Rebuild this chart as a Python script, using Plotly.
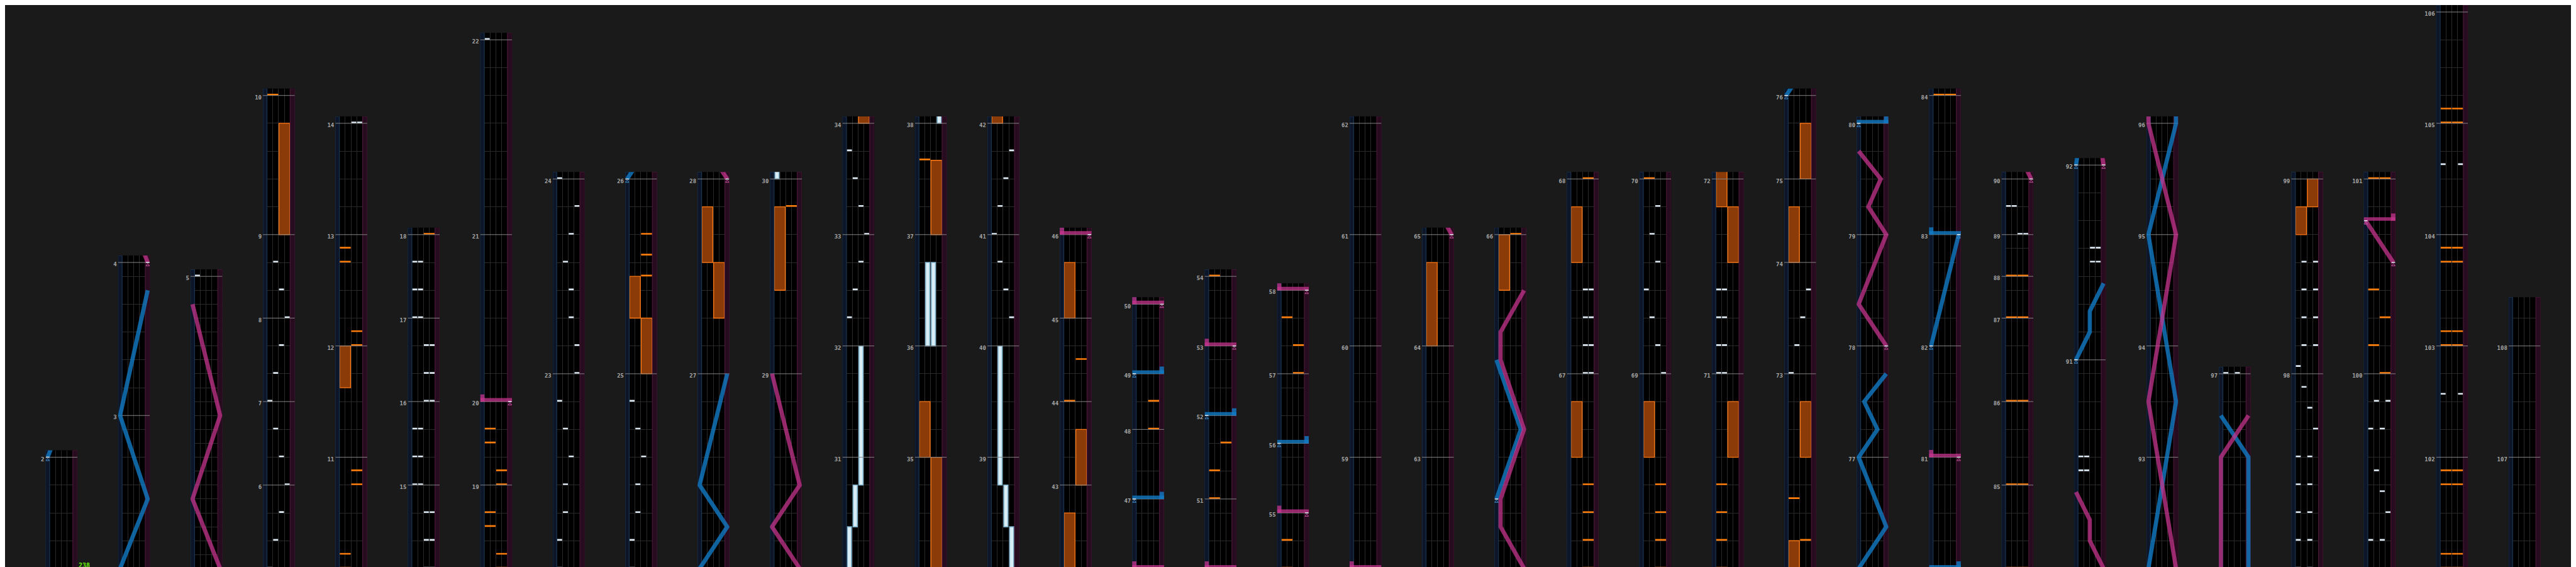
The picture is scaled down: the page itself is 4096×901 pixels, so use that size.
import plotly.graph_objects as go

# ---------------- DATA ----------------
# length of every measure in beats (m1 .. m108)
measure_beats = [4, 5.5, 5.5, 10.5, 3, 3, 3, 3, 5, 4, 4, 4, 4, 3, 3, 3, 3,   # m1-m17
                 3, 3, 6, 7, 7, 7, 7, 7, 7, 7, 7, 7,                          # m18-m29
                 4, 4, 4, 4, 4, 4, 4, 4, 4, 4, 4, 4,                          # m30-m41
                 3, 3, 3, 3,                                                  # m42-m45
                 2.5, 2.5, 2, 2.5, 2.5, 3, 2.5, 2.5, 2, 2.5, 2.5, 3,          # m46-m57
                 4, 4, 4, 4, 4, 4, 4,                                         # m58-m64
                 12,                                                          # m65
                 7, 7, 7, 7, 7, 7, 7,                                         # m66-m72
                 4, 3, 3,                                                     # m73-m75
                 4, 4, 4, 4, 4, 4, 4, 5,                                      # m76-m83
                 3, 3, 3, 1.5, 1.5, 2,                                        # m84-m89
                 7.5, 7,                                                      # m90-m91
                 4, 4, 4, 4,                                                  # m92-m95
                 7, 7, 7, 7, 7,                                               # m96-m100
                 4, 4, 4, 4, 4, 4, 4,                                         # m101-m107
                 4]                                                           # m108
grid_step = {4: 0.5}          # beat-grid spacing (default 1 beat)
end_extra = 1.75              # beats of m108 shown at the chart end

column_first = [1, 2, 4, 5, 10, 14, 18, 22, 24, 26, 28, 30, 34, 38, 42, 46, 50, 54,
                58, 62, 65, 66, 68, 70, 72, 76, 80, 84, 90, 92, 96, 97, 99, 101, 106]
column_top = [2, 4, 5, 10, 14, 18, 22, 24, 26, 28, 30, 34, 38, 42, 46, 50, 54, 58,
              62, 65, 66, 68, 70, 72, 76, 80, 84, 90, 92, 96, 97, 99, 101, 106, 108]

bpm_text = "238"

# BT chips: (measure, beat, lane)
bt_chips = [
    (5, 0, 0), (5, 1, 1), (5, 2, 2), (6, 0, 3), (6, 1, 2), (6, 2, 1),
    (7, 0, 0), (7, 1, 1), (7, 2, 2), (8, 0, 3), (8, 1, 2), (8, 2, 1),
    (14, 0, 2), (14, 0, 3), (14, 1, 2), (14, 1, 3), (14, 2, 2), (14, 2, 3),
    (15, 0, 0), (15, 0, 1), (15, 1, 0), (15, 1, 1), (15, 2, 0), (15, 2, 1),
    (16, 0, 2), (16, 0, 3), (16, 1, 2), (16, 1, 3), (16, 2, 2), (16, 2, 3),
    (17, 0, 0), (17, 0, 1), (17, 1, 0), (17, 1, 1), (17, 2, 0), (17, 2, 1),
    (22, 0, 0), (22, 1, 0), (22, 2, 1), (22, 3, 1), (22, 4, 2), (22, 5, 1), (22, 6, 0),
    (23, 0, 3), (23, 1, 3), (23, 2, 2), (23, 3, 2), (23, 4, 1), (23, 5, 2), (23, 6, 3),
    (24, 0, 0), (24, 1, 0), (24, 2, 1), (24, 3, 1), (24, 4, 2), (24, 5, 1), (24, 6, 0),
    (32, 1, 0), (32, 2, 1), (32, 3, 2), (33, 0, 3), (33, 1, 2), (33, 2, 1), (33, 3, 0),
    (40, 1, 3), (40, 2, 2), (40, 3, 1), (41, 0, 0), (41, 1, 1), (41, 2, 2), (41, 3, 3),
    (67, 0, 2), (67, 0, 3), (67, 1, 2), (67, 1, 3), (67, 2, 2), (67, 2, 3), (67, 3, 2), (67, 3, 3),
    (69, 0, 3), (69, 1, 2), (69, 2, 1), (69, 3, 0), (69, 4, 2), (69, 5, 1), (69, 6, 2),
    (71, 0, 0), (71, 0, 1), (71, 1, 0), (71, 1, 1), (71, 2, 0), (71, 2, 1), (71, 3, 0), (71, 3, 1),
    (73, 0, 0), (73, 1, 1), (73, 2, 2), (73, 3, 3),
    (89, 0, 2), (89, 0, 3), (89, 1, 0), (89, 1, 1),
    (90, 3.5, 0), (90, 3.5, 1), (90, 4, 0), (90, 4, 1),
    (91, 3.5, 2), (91, 3.5, 3), (91, 4, 2), (91, 4, 3),
    (97, 0, 0), (97, 0, 2), (97, 1, 0), (97, 1, 2), (97, 2, 0), (97, 2, 2),
    (97, 3, 0), (97, 3, 2), (97, 4, 0), (97, 4, 2),
    (97, 5, 3), (97, 5.75, 2), (97, 6.5, 1), (98, 0.25, 0),
    (98, 1, 1), (98, 1, 3), (98, 2, 1), (98, 2, 3), (98, 3, 1), (98, 3, 3), (98, 4, 1), (98, 4, 3),
    (99, 1, 0), (99, 1, 2), (99, 2, 3), (99, 2.75, 2), (99, 3.5, 1),
    (99, 5, 0), (99, 5, 2), (99, 6, 1), (99, 6, 3),
    (102, 2.25, 0), (102, 2.25, 3), (104, 2.5, 0), (104, 2.5, 3),
]

# FX chips: (measure, beat, side)
fx_chips = [
    (10, 0, 'L'), (10, 0.5, 'L'), (10, 3, 'R'), (10, 3.5, 'R'),
    (12, 0, 'R'), (12, 0.5, 'R'), (12, 3, 'L'), (12, 3.5, 'L'),
    (18, 0, 'R'), (18, 0.5, 'R'), (18, 1.5, 'L'), (18, 2, 'L'),
    (19, 0, 'R'), (19, 0.5, 'R'), (19, 1.5, 'L'), (19, 2, 'L'),
    (25, 3.5, 'R'), (25, 4.25, 'R'), (25, 5, 'R'),
    (29, 6, 'R'), (37, 2.67, 'L'),
    (44, 0, 'L'), (44, 1.5, 'R'),
    (48, 0, 'R'), (48, 1, 'R'),
    (51, 0, 'L'), (51, 1, 'L'), (51, 2, 'R'),
    (54, 0, 'L'), (54, 1, 'L'),
    (57, 0, 'R'), (57, 1, 'R'), (57, 2, 'L'),
    (66, 0, 'R'), (66, 1, 'R'), (66, 2, 'R'), (66, 3, 'R'),
    (68, 0, 'R'), (68, 1, 'R'), (68, 2, 'R'), (68, 3, 'R'),
    (70, 0, 'L'), (70, 1, 'L'), (70, 2, 'L'), (70, 3, 'L'),
    (72, 1, 'R'), (72, 2.5, 'L'),
    (84, 0, 'L'), (84, 0, 'R'), (85, 0, 'L'), (85, 0, 'R'), (86, 0, 'L'), (86, 0, 'R'),
    (87, 0, 'L'), (87, 0, 'R'), (88, 0, 'L'), (88, 0, 'R'),
    (100, 0, 'R'), (100, 1, 'L'), (100, 2, 'R'), (100, 3, 'L'),
    (101, 0, 'L'), (101, 0, 'R'), (101, 0.5, 'L'), (101, 0.5, 'R'),
    (101, 3, 'L'), (101, 3, 'R'), (101, 3.5, 'L'), (101, 3.5, 'R'),
    (103, 0, 'L'), (103, 0, 'R'), (103, 0.5, 'L'), (103, 0.5, 'R'),
    (103, 3, 'L'), (103, 3, 'R'), (103, 3.5, 'L'), (103, 3.5, 'R'),
    (105, 0, 'L'), (105, 0, 'R'), (105, 0.5, 'L'), (105, 0.5, 'R'),
]

# FX holds: (measure, beat, length, side)
fx_holds = [
    (9, 0, 4, 'R'), (11, 2.5, 1.5, 'L'),
    (25, 0, 2, 'R'), (25, 2, 1.5, 'L'),
    (27, 2, 2, 'R'), (27, 4, 2, 'L'), (29, 3, 3, 'L'),
    (34, 0, 4, 'R'), (35, 0, 2, 'L'), (37, 0, 2.67, 'R'),
    (42, 0, 2, 'L'), (43, 0, 2, 'R'), (45, 0, 2, 'L'),
    (64, 0, 3, 'L'), (65, 10, 2, 'L'),
    (66, 4, 2, 'L'), (67, 4, 2, 'L'), (68, 4, 2, 'L'),
    (70, 4, 2, 'R'), (71, 4, 2, 'R'), (71, 6, 2, 'L'),
    (72, 4, 2, 'R'), (74, 0, 2, 'L'), (75, 0, 2, 'R'),
    (98, 5, 1, 'L'), (98, 6, 1, 'R'),
]

# BT holds: (measure, beat, length, lane)
bt_holds = [
    (30, 0, 1.5, 0), (30, 1.5, 1.5, 1), (30, 3, 5, 2),
    (36, 0, 3, 1), (36, 0, 3, 2),
    (38, 0, 1.5, 3), (38, 1.5, 1.5, 2), (38, 3, 5, 1),
]

# lasers: list of (measure, beat, position 0..1)
lasers_left = [
    [(2, 0, 0), (2, 2.5, 1), (3, 0, 0), (3, 4.5, 1)],
    [(26, 0, 0), (26, 1.5, 1), (26, 3, 0), (27, 0, 1)],
    [(65, 2.5, 0), (65, 5, 0.88), (65, 7.5, 0)],
    [(76, 0, 0), (76, 1.5, 1), (77, 0, 0), (77, 1, 0.68), (77, 2, 0.2), (77, 3, 1)],
    [(82, 0, 0), (83, 0, 1)],
    [(91, 0, 0), (91, 1, 0.5), (91, 1.75, 0.5), (91, 2.75, 1)],
    [(92, 0, 0), (93, 2, 1), (95, 0, 0), (96, 0, 1), (96, 4, 1), (96, 5.5, 0)],
]
lasers_right = [
    [(4, 0, 1), (4, 2.5, 0), (4, 5.5, 1), (4, 9.5, 0)],
    [(28, 0, 1), (28, 1.5, 0), (28, 3, 1), (29, 0, 0)],
    [(65, 0, 1), (65, 1.5, 0.15), (65, 2.5, 0.15), (65, 5, 1), (65, 7.5, 0.15), (65, 8.5, 0.15), (65, 10, 1)],
    [(78, 0, 1), (78, 1.5, 0), (79, 0, 1), (79, 1, 0.35), (79, 2, 0.8), (79, 3, 0)],
    [(90, 0, 1), (90, 1, 0.5), (90, 1.75, 0.5), (90, 2.75, 0)],
    [(92, 0, 1), (93, 2, 0), (95, 0, 1), (96, 0, 0), (96, 4, 0), (96, 5.5, 1)],
    [(100, 4, 1), (100, 5.5, 0)],
]
# slams: (measure, beat, laser side, end with the block: 0 left / 1 right)
slams = [
    (20, 0, 'R', 0), (46, 0, 'R', 0), (47, 0, 'L', 1), (49, 0, 'L', 1),
    (50, 0, 'R', 0), (52, 0, 'L', 1), (53, 0, 'R', 0), (55, 0, 'R', 0),
    (56, 0, 'L', 1), (58, 0, 'R', 0), (80, 0, 'L', 1), (81, 0, 'R', 0),
    (83, 0, 'L', 0), (100, 5.5, 'R', 1),
]

# ---------------- GEOMETRY / STYLE ----------------
FULL_W, FULL_H = 4445, 978
OUT_W, OUT_H = 4096, 901
SC = OUT_H / FULL_H
PX = 48.0            # reference px per beat
BOT_PAD, TOP_PAD = 6, 12
COL_X0, COL_STEP, COL_W = 70, 125, 55
XMIN, XMAX = -0.7, 4.8

BG = '#1a1a1a'
BLUE_BAND, BLUE_EDGE = '#0d1629', '#1c3550'
PINK_BAND, PINK_EDGE = '#260c1e', '#4a1838'
GRID = '#2a2a2a'
MEASURE = '#858585'
LABEL = '#a6a6a6'
BT_COL = '#dde9f3'
FX_COL = '#ff7d0a'
FXH_FILL, FXH_EDGE = '#8a3b08', '#ff7a14'
BTH_FILL, BTH_EDGE = '#d9edf6', '#7fb3cd'
BLUE_LASER = 'rgba(18,122,196,0.80)'
PINK_LASER = 'rgba(198,52,142,0.74)'
BLUE_CARET, PINK_CARET = '#3f8fcc', '#c8509f'
CHIP_H = 0.06

start = {}
acc = 0.0
for i, L in enumerate(measure_beats):
    start[i + 1] = acc
    acc += L


def T(m, b):
    return start[m] + b


def lx(p):
    return -0.35 + p * 4.77


# laser start points (caret markers): first point of each laser + free end of slams
caret_pts = {'L': [], 'R': []}
for las in lasers_left:
    m, bb, p = las[0]
    caret_pts['L'].append((T(m, bb), lx(p)))
for las in lasers_right:
    m, bb, p = las[0]
    caret_pts['R'].append((T(m, bb), lx(p)))
for m, bb, s, blk in slams:
    caret_pts[s].append((T(m, bb), lx(1 - blk)))

fig = go.Figure()
n_cols = len(column_first)
for k in range(n_cols):
    a, b = column_first[k], column_top[k]
    idx = k + 1
    xa = 'x' if idx == 1 else f'x{idx}'
    ya = 'y' if idx == 1 else f'y{idx}'
    lo = start[a]
    if k == n_cols - 1:
        hi, tpad = start[b] + end_extra, 0
    else:
        hi, tpad = start[b], TOP_PAD
    ylo = lo - BOT_PAD / PX
    yhi = hi + tpad / PX
    dom_top = (BOT_PAD + PX * (hi - lo) + tpad) / FULL_H
    x0 = (COL_X0 + COL_STEP * k) / FULL_W
    x1 = (COL_X0 + COL_STEP * k + COL_W) / FULL_W

    meas = [m for m in start if lo - 1e-9 <= start[m] <= hi + 1e-9]
    minor = []
    for m in meas:
        st = grid_step.get(m, 1)
        j = 1
        while j * st < measure_beats[m - 1] - 1e-9 and start[m] + j * st <= yhi:
            minor.append(start[m] + j * st)
            j += 1

    fig.layout[('xaxis' if idx == 1 else f'xaxis{idx}')] = dict(
        domain=[x0, x1], range=[XMIN, XMAX], anchor=ya,
        tickmode='array', tickvals=[1, 2, 3], showticklabels=False, ticks='',
        showgrid=True, gridcolor=GRID, gridwidth=1, zeroline=False, showline=False,
        fixedrange=True)
    fig.layout[('yaxis' if idx == 1 else f'yaxis{idx}')] = dict(
        domain=[0, dom_top], range=[ylo, yhi], anchor=xa,
        tickmode='array', tickvals=[start[m] for m in meas], ticktext=[str(m) for m in meas],
        ticks='', showgrid=False, zeroline=False, showline=False,
        tickfont=dict(family='DejaVu Sans Mono', size=9, color=LABEL, weight='bold'),
        ticklabelstandoff=1, ticklabelshift=3,
        minor=dict(tickmode='array', tickvals=minor, showgrid=True, gridcolor=GRID,
                   gridwidth=1, ticks=''),
        fixedrange=True)

    common = dict(xaxis=xa, yaxis=ya, hoverinfo='skip', showlegend=False)

    # lane-side bands
    for bx0, bx1, fc, lc in [(XMIN, 0, BLUE_BAND, BLUE_EDGE), (4, XMAX, PINK_BAND, PINK_EDGE)]:
        fig.add_trace(go.Scatter(x=[bx0, bx1, bx1, bx0, bx0], y=[ylo, ylo, yhi, yhi, ylo],
                                 mode='lines', fill='toself', fillcolor=fc,
                                 line=dict(color=lc, width=1.2), **common))

    def vis(t0, t1):
        return t1 >= ylo - 0.01 and t0 <= yhi + 0.01

    # FX holds
    hx, hb, hy = [], [], []
    for m, bb, ln, s in fx_holds:
        t = T(m, bb)
        if vis(t, t + ln):
            hx.append(1.0 if s == 'L' else 3.0); hb.append(t); hy.append(ln)
    if hx:
        fig.add_trace(go.Bar(x=hx, y=hy, base=hb, width=1.86,
                             marker=dict(color=FXH_FILL, line=dict(color=FXH_EDGE, width=1.3)),
                             **common))
    # BT holds
    hx, hb, hy = [], [], []
    for m, bb, ln, lane in bt_holds:
        t = T(m, bb)
        if vis(t, t + ln):
            hx.append(lane + 0.5); hb.append(t); hy.append(ln)
    if hx:
        fig.add_trace(go.Bar(x=hx, y=hy, base=hb, width=0.72,
                             marker=dict(color=BTH_FILL, line=dict(color=BTH_EDGE, width=1.6)),
                             **common))

    # measure lines
    mx, my = [], []
    for m in meas:
        mx += [XMIN, XMAX, None]; my += [start[m], start[m], None]
    fig.add_trace(go.Scatter(x=mx, y=my, mode='lines', line=dict(color=MEASURE, width=1),
                             **common))

    # FX chips
    cx, cb = [], []
    for m, bb, s in fx_chips:
        t = T(m, bb)
        if vis(t, t + CHIP_H):
            cx.append(1.0 if s == 'L' else 3.0); cb.append(t)
    if cx:
        fig.add_trace(go.Bar(x=cx, y=[CHIP_H] * len(cx), base=cb, width=1.9,
                             marker=dict(color=FX_COL, line=dict(width=0)), **common))
    # BT chips
    cx, cb = [], []
    for m, bb, lane in bt_chips:
        t = T(m, bb)
        if vis(t, t + CHIP_H):
            cx.append(lane + 0.5); cb.append(t)
    if cx:
        fig.add_trace(go.Bar(x=cx, y=[CHIP_H] * len(cx), base=cb, width=0.86,
                             marker=dict(color=BT_COL, line=dict(width=0)), **common))

    # lasers
    for lasers, col in [(lasers_left, BLUE_LASER), (lasers_right, PINK_LASER)]:
        xs, ys = [], []
        for las in lasers:
            ts = [T(m, bb) for m, bb, p in las]
            if not vis(min(ts), max(ts)):
                continue
            for (m, bb, p) in las:
                xs.append(lx(p)); ys.append(T(m, bb))
            xs.append(None); ys.append(None)
        if xs:
            fig.add_trace(go.Scatter(x=xs, y=ys, mode='lines',
                                     line=dict(color=col, width=7.2 * SC),
                                     **common))
    # slams
    for side, col in [('L', BLUE_LASER), ('R', PINK_LASER)]:
        bx, by, qx, qy = [], [], [], []
        for m, bb, s, blk in slams:
            if s != side:
                continue
            t = T(m, bb)
            if not vis(t, t + 0.25):
                continue
            bx += [XMIN, XMAX, None]; by += [t + 0.0625, t + 0.0625, None]
            qxx = -0.35 if blk == 0 else 4.4
            qx += [qxx, qxx, None]; qy += [t, t + 0.26, None]
        if bx:
            fig.add_trace(go.Scatter(x=bx, y=by, mode='lines',
                                     line=dict(color=col, width=6 * SC), **common))
            fig.add_trace(go.Scatter(x=qx, y=qy, mode='lines',
                                     line=dict(color=col, width=7.6 * SC), **common))

    # laser start marks: short white tick on the line + caret just below
    for side, ccol in [('L', BLUE_CARET), ('R', PINK_CARET)]:
        pts = [(t, x) for t, x in caret_pts[side] if ylo <= t <= yhi]
        if not pts:
            continue
        wx, wy = [], []
        for t, x in pts:
            wx += [x - 0.3, x + 0.3, None]; wy += [t, t, None]
        fig.add_trace(go.Scatter(x=wx, y=wy, mode='lines',
                                 line=dict(color='#e8f0f8', width=1.5), **common))
        fig.add_trace(go.Scatter(x=[x for t, x in pts], y=[t - 4.5 / PX for t, x in pts],
                                 mode='markers',
                                 marker=dict(symbol='triangle-up-open', size=5,
                                             color=ccol, line=dict(color=ccol, width=1)),
                                 **common))

# BPM marker
fig.add_annotation(xref='x', yref='y', x=XMAX, y=start[1], text=f'<b>{bpm_text}</b>',
                   showarrow=False, xanchor='left', yanchor='bottom', xshift=0, yshift=-3,
                   font=dict(family='DejaVu Sans Mono', size=10, color='#6cf00a'))

fig.update_layout(width=OUT_W, height=OUT_H, margin=dict(l=0, r=0, t=0, b=0),
                  paper_bgcolor=BG, plot_bgcolor='#000000', barmode='overlay',
                  showlegend=False)
fig.write_html('out.html')
